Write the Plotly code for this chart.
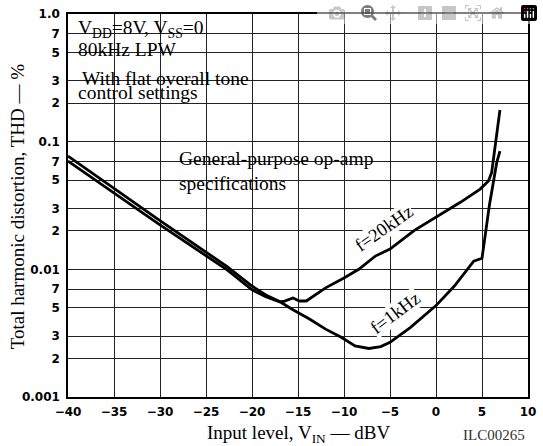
import plotly.graph_objects as go

# ---- data ----
x_1k = [-40, -30.2, -22.7, -20, -18.5, -17, -15.5, -13.8, -12, -10.3, -8.8, -7.3, -6,
        -5, -2.8, 0, 2, 3.75, 4.1, 5.0, 5.8, 6.6, 6.95]
thd_1k = [0.0771, 0.0246, 0.0105, 0.0074, 0.0063, 0.0056, 0.0048, 0.0041, 0.0034, 0.00294,
          0.00251, 0.0024, 0.00248, 0.00268, 0.0035, 0.0052, 0.0074, 0.0109, 0.0116, 0.0122,
          0.0316, 0.0685, 0.0843]

x_20k = [-40, -30.2, -22.7, -20, -18.5, -17, -16.45, -15.9, -15.55, -15.2, -14.85, -14.1,
         -12, -10, -8.4, -6.6, -5, -2.35, 0, 2.65, 4.8, 5.7, 6.05, 6.95]
thd_20k = [0.0705, 0.0228, 0.0099, 0.0069, 0.0061, 0.00557, 0.00564, 0.00587, 0.00597, 0.0058,
           0.00565, 0.00565, 0.00716, 0.00855, 0.0100, 0.0127, 0.0144, 0.0202, 0.0257, 0.0335,
           0.0425, 0.0493, 0.0573, 0.177]

x_ticks = [-40, -35, -30, -25, -20, -15, -10, -5, 0, 5, 10]
x_tick_text = ["\u221240", "\u221235", "\u221230", "\u221225", "\u221220", "\u221215",
               "\u221210", "\u22125", "0", "5", "10"]
y_ticks = [0.001, 0.002, 0.003, 0.005, 0.007, 0.01, 0.02, 0.03, 0.05, 0.07,
           0.1, 0.2, 0.3, 0.5, 0.7, 1.0]
y_tick_text = ["0.001", "2", "3", "5", "7", "0.01", "2", "3", "5", "7",
               "0.1", "2", "3", "5", "7", "1.0"]

SERIF = "Liberation Serif, Times New Roman, serif"
SANS = "DejaVu Sans, sans-serif"

W, H = 543, 446
ML, MR, MT, MB = 68, 7, 9, 49
PW, PH = W - ML - MR, H - MT - MB


def px(xp):  # pixel x -> paper
    return (xp - ML) / PW


def py(yp):  # pixel y -> paper
    return (H - MB - yp) / PH


fig = go.Figure()
fig.add_trace(go.Scatter(x=x_1k, y=thd_1k, mode="lines", name="f=1kHz",
                         line=dict(color="black", width=2.8)))
fig.add_trace(go.Scatter(x=x_20k, y=thd_20k, mode="lines", name="f=20kHz",
                         line=dict(color="black", width=2.8)))

fig.update_xaxes(range=[-40, 10], tickvals=x_ticks, ticktext=x_tick_text,
                 showgrid=True, gridcolor="#222222", gridwidth=1,
                 showline=True, linecolor="black", linewidth=1.5, mirror=True,
                 ticks="", ticklabelstandoff=3,
                 tickfont=dict(family=SANS, size=12, color="black", weight="bold"),
                 zeroline=False)
fig.update_yaxes(type="log", range=[-3, 0], tickvals=y_ticks, ticktext=y_tick_text,
                 showgrid=True, gridcolor="#222222", gridwidth=1,
                 showline=True, linecolor="black", linewidth=1.5, mirror=True,
                 ticks="", ticklabelstandoff=4,
                 tickfont=dict(family=SANS, size=12, color="black", weight="bold"),
                 zeroline=False)

# white masks behind the text blocks (above grid, below curves)
masks = [(68.5, 10, 228, 62), (80, 62, 250, 85), (77, 85, 203, 105), (167, 143, 390, 193)]
shapes = [dict(type="rect", xref="paper", yref="paper", x0=px(a), x1=px(c), y0=py(d), y1=py(b),
               fillcolor="white", line=dict(width=0), layer="between") for a, b, c, d in masks]


def txt(text, xp, yp, size=19.5, xanchor="left", angle=0, bg=None, align="left", color="black"):
    d = dict(text=text, x=px(xp), y=py(yp), xref="paper", yref="paper", showarrow=False,
             xanchor=xanchor, yanchor="middle", textangle=angle, align=align,
             font=dict(family=SERIF, size=size, color=color))
    if bg:
        d.update(bgcolor=bg, borderpad=0)
    return d


annotations = [
    txt("V<sub>DD</sub>=8V, V<sub>SS</sub>=0", 76, 24),
    txt("80kHz LPW", 76, 45),
    txt("With flat overall tone", 80, 74),
    txt("control settings", 76, 89),
    txt("General-purpose op-amp<br>specifications", 179, 168),
    txt("f=20kHz", 390, 226, size=18.5, xanchor="center", angle=-35, bg="white"),
    txt("f=1kHz", 401, 312, size=18.5, xanchor="center", angle=-37, bg="white"),
    txt("Input level, V<sub>IN</sub> \u2014 dBV", 302, 434, size=19, xanchor="center"),
    txt("Total harmonic distortion, THD \u2014 %", 17, 204, size=19, xanchor="center",
        angle=-90),
    txt("ILC00265", 535, 436, size=15, xanchor="right", color="#333"),
]

fig.update_layout(width=W, height=H, margin=dict(l=ML, r=MR, t=MT, b=MB),
                  plot_bgcolor="white", paper_bgcolor="white", showlegend=False,
                  annotations=annotations, shapes=shapes)

fig.write_html("out.html", post_script="document.body.style.margin='0';")
